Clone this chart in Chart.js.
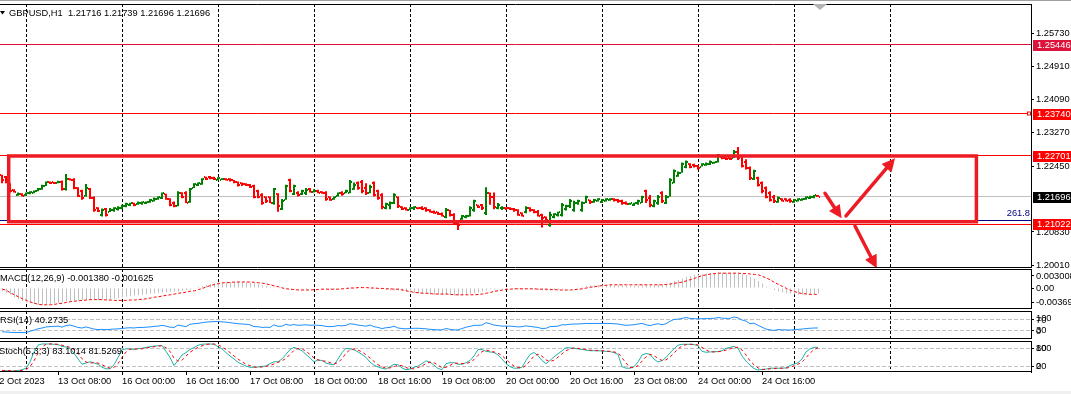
<!DOCTYPE html>
<html>
<head>
<meta charset="utf-8">
<title>GBPUSD,H1</title>
<script src="https://cdn.jsdelivr.net/npm/chart.js@4.4.1/dist/chart.umd.min.js"></script>
<style>
  html, body { margin: 0; padding: 0; background: #fff; }
  #wrap { position: relative; width: 1071px; height: 394px; overflow: hidden; background: #fff; }
  #wrap canvas { position: absolute; left: 0; }
  #topline { position: absolute; left: 0; top: 0; width: 1071px; height: 1px; background: #a0a0a0; }
  #bottomstrip { position: absolute; left: 0; top: 391px; width: 1071px; height: 3px; background: #f0f0f0; }
</style>
</head>
<body>
<div id="wrap">
  <div id="topline"></div>
  <canvas id="cMain" width="1071" height="264" style="top:4px"></canvas>
  <canvas id="cMacd" width="1071" height="40" style="top:269px"></canvas>
  <canvas id="cRsi" width="1071" height="28" style="top:311px"></canvas>
  <canvas id="cStoch" width="1071" height="53" style="top:341px"></canvas>
  <div id="bottomstrip"></div>
</div>
<script>
// Données (GBPUSD H1, une barre par heure)
const symbolName = 'GBPUSD,H1';

const xTickLabels = ['12 Oct 2023', '13 Oct 08:00', '16 Oct 00:00', '16 Oct 16:00', '17 Oct 08:00',
  '18 Oct 00:00', '18 Oct 16:00', '19 Oct 08:00', '20 Oct 00:00', '20 Oct 16:00',
  '23 Oct 08:00', '24 Oct 00:00', '24 Oct 16:00'];
const xTickBars = [-2, 14, 30, 46, 62, 78, 94, 110, 126, 142, 158, 174, 190];
// séparateurs de jours (index de barre)
const daySeparatorBars = [6, 30, 54, 78, 102, 126, 150, 174, 198, 222];

const opens = [
  1.2223,1.2218,1.2203,1.2187,1.2173,1.2177,1.2173,1.2178,1.2180,1.2183,
  1.2188,1.2197,1.2205,1.2205,1.2204,1.2207,1.2188,1.2214,1.2211,1.2191,
  1.2183,1.2172,1.2188,1.2166,1.2141,1.2124,1.2139,1.2133,1.2136,1.2139,
  1.2142,1.2147,1.2150,1.2154,1.2151,1.2154,1.2154,1.2157,1.2160,1.2164,
  1.2166,1.2177,1.2165,1.2154,1.2147,1.2180,1.2180,1.2157,1.2192,1.2198,
  1.2201,1.2218,1.2218,1.2217,1.2211,1.2212,1.2214,1.2213,1.2210,1.2205,
  1.2203,1.2201,1.2199,1.2196,1.2185,1.2174,1.2169,1.2168,1.2154,1.2177,
  1.2139,1.2162,1.2211,1.2177,1.2180,1.2176,1.2178,1.2188,1.2182,1.2185,
  1.2181,1.2180,1.2169,1.2164,1.2172,1.2180,1.2178,1.2180,1.2188,1.2203,
  1.2207,1.2191,1.2180,1.2203,1.2183,1.2174,1.2142,1.2150,1.2155,1.2169,
  1.2144,1.2142,1.2137,1.2141,1.2143,1.2143,1.2141,1.2137,1.2133,1.2131,
  1.2128,1.2121,1.2136,1.2125,1.2106,1.2114,1.2119,1.2123,1.2137,1.2149,
  1.2150,1.2129,1.2178,1.2170,1.2141,1.2141,1.2142,1.2142,1.2140,1.2137,
  1.2129,1.2131,1.2143,1.2137,1.2133,1.2125,1.2119,1.2101,1.2121,1.2124,
  1.2125,1.2139,1.2146,1.2137,1.2154,1.2137,1.2155,1.2162,1.2157,1.2160,
  1.2157,1.2160,1.2162,1.2164,1.2162,1.2160,1.2155,1.2151,1.2150,1.2154,
  1.2155,1.2183,1.2166,1.2147,1.2154,1.2180,1.2155,1.2170,1.2203,1.2221,
  1.2229,1.2242,1.2251,1.2248,1.2246,1.2244,1.2247,1.2251,1.2252,1.2255,
  1.2267,1.2265,1.2265,1.2265,1.2281,1.2269,1.2256,1.2240,1.2213,1.2215,
  1.2203,1.2191,1.2178,1.2170,1.2156,1.2164,1.2164,1.2162,1.2157,1.2160,
  1.2162,1.2164,1.2166,1.2169,1.21716
];
const highs = [
  1.2224,1.2221,1.2203,1.2188,1.2180,1.2178,1.2180,1.2183,1.2185,1.2191,
  1.2199,1.2207,1.2207,1.2206,1.2209,1.2210,1.2226,1.2215,1.2215,1.2193,
  1.2187,1.2201,1.2191,1.2170,1.2144,1.2141,1.2142,1.2142,1.2144,1.2146,
  1.2150,1.2155,1.2155,1.2155,1.2158,1.2158,1.2158,1.2164,1.2168,1.2170,
  1.2180,1.2177,1.2166,1.2158,1.2183,1.2181,1.2183,1.2191,1.2203,1.2205,
  1.2215,1.2219,1.2221,1.2219,1.2218,1.2215,1.2215,1.2215,1.2211,1.2207,
  1.2205,1.2203,1.2201,1.2199,1.2187,1.2178,1.2170,1.2170,1.2191,1.2178,
  1.2164,1.2199,1.2214,1.2199,1.2183,1.2187,1.2191,1.2191,1.2188,1.2187,
  1.2183,1.2183,1.2170,1.2170,1.2180,1.2183,1.2187,1.2211,1.2205,1.2207,
  1.2211,1.2203,1.2199,1.2207,1.2187,1.2178,1.2155,1.2158,1.2178,1.2170,
  1.2146,1.2144,1.2144,1.2146,1.2144,1.2146,1.2144,1.2139,1.2136,1.2133,
  1.2131,1.2142,1.2137,1.2129,1.2109,1.2125,1.2125,1.2146,1.2162,1.2150,
  1.2152,1.2193,1.2180,1.2180,1.2154,1.2146,1.2144,1.2144,1.2142,1.2139,
  1.2131,1.2146,1.2144,1.2139,1.2137,1.2128,1.2121,1.2133,1.2129,1.2133,
  1.2154,1.2150,1.2164,1.2160,1.2162,1.2158,1.2172,1.2162,1.2164,1.2166,
  1.2164,1.2166,1.2166,1.2166,1.2164,1.2162,1.2158,1.2155,1.2155,1.2162,
  1.2172,1.2187,1.2174,1.2162,1.2174,1.2183,1.2174,1.2215,1.2237,1.2232,
  1.2254,1.2259,1.2252,1.2251,1.2248,1.2252,1.2254,1.2259,1.2256,1.2275,
  1.2267,1.2267,1.2267,1.2285,1.2292,1.2273,1.2262,1.2244,1.2236,1.2219,
  1.2207,1.2195,1.2183,1.2174,1.2170,1.2166,1.2166,1.2166,1.2164,1.2166,
  1.2166,1.2170,1.2172,1.2174,1.21739
];
const lows = [
  1.2203,1.2203,1.2180,1.2180,1.2172,1.2170,1.2172,1.2176,1.2178,1.2183,
  1.2187,1.2196,1.2201,1.2201,1.2203,1.2185,1.2185,1.2210,1.2188,1.2169,
  1.2162,1.2170,1.2164,1.2133,1.2132,1.2121,1.2121,1.2132,1.2133,1.2136,
  1.2139,1.2144,1.2147,1.2146,1.2150,1.2150,1.2152,1.2155,1.2158,1.2162,
  1.2164,1.2162,1.2146,1.2144,1.2146,1.2166,1.2154,1.2155,1.2191,1.2196,
  1.2199,1.2211,1.2213,1.2211,1.2210,1.2211,1.2210,1.2207,1.2203,1.2195,
  1.2196,1.2196,1.2191,1.2166,1.2166,1.2150,1.2154,1.2154,1.2150,1.2133,
  1.2137,1.2162,1.2181,1.2174,1.2170,1.2174,1.2174,1.2180,1.2180,1.2178,
  1.2177,1.2160,1.2160,1.2162,1.2170,1.2172,1.2178,1.2178,1.2187,1.2187,
  1.2178,1.2174,1.2178,1.2170,1.2162,1.2139,1.2139,1.2139,1.2152,1.2142,
  1.2137,1.2136,1.2137,1.2137,1.2139,1.2137,1.2133,1.2131,1.2128,1.2125,
  1.2121,1.2117,1.2121,1.2101,1.2088,1.2113,1.2117,1.2121,1.2133,1.2142,
  1.2137,1.2125,1.2150,1.2139,1.2139,1.2137,1.2137,1.2137,1.2133,1.2123,
  1.2121,1.2129,1.2133,1.2129,1.2121,1.2094,1.2109,1.2096,1.2117,1.2121,
  1.2121,1.2136,1.2142,1.2133,1.2150,1.2133,1.2154,1.2152,1.2155,1.2158,
  1.2154,1.2158,1.2160,1.2158,1.2155,1.2150,1.2150,1.2150,1.2147,1.2150,
  1.2154,1.2154,1.2144,1.2144,1.2150,1.2154,1.2152,1.2170,1.2203,1.2219,
  1.2229,1.2240,1.2240,1.2242,1.2237,1.2244,1.2246,1.2248,1.2251,1.2254,
  1.2262,1.2260,1.2260,1.2265,1.2260,1.2242,1.2237,1.2211,1.2211,1.2195,
  1.2178,1.2166,1.2158,1.2154,1.2155,1.2158,1.2158,1.2155,1.2155,1.2158,
  1.2160,1.2162,1.2164,1.2166,1.21696
];
const closes = [
  1.2210,1.2205,1.2185,1.2182,1.2177,1.2172,1.2178,1.2181,1.2183,1.2188,
  1.2196,1.2205,1.2203,1.2203,1.2206,1.2188,1.2213,1.2211,1.2191,1.2172,
  1.2166,1.2191,1.2166,1.2137,1.2134,1.2137,1.2125,1.2137,1.2141,1.2143,
  1.2147,1.2153,1.2154,1.2149,1.2155,1.2156,1.2157,1.2162,1.2165,1.2168,
  1.2178,1.2165,1.2150,1.2146,1.2180,1.2170,1.2155,1.2188,1.2201,1.2203,
  1.2213,1.2214,1.2215,1.2214,1.2215,1.2214,1.2211,1.2210,1.2205,1.2199,
  1.2200,1.2198,1.2193,1.2170,1.2168,1.2154,1.2158,1.2155,1.2188,1.2147,
  1.2158,1.2196,1.2185,1.2195,1.2174,1.2183,1.2187,1.2182,1.2185,1.2180,
  1.2178,1.2164,1.2162,1.2168,1.2178,1.2176,1.2185,1.2207,1.2199,1.2191,
  1.2185,1.2178,1.2193,1.2174,1.2166,1.2144,1.2152,1.2154,1.2174,1.2146,
  1.2140,1.2137,1.2142,1.2144,1.2141,1.2139,1.2136,1.2132,1.2129,1.2127,
  1.2123,1.2137,1.2124,1.2105,1.2101,1.2123,1.2123,1.2142,1.2158,1.2144,
  1.2142,1.2178,1.2170,1.2144,1.2150,1.2143,1.2141,1.2140,1.2136,1.2125,
  1.2123,1.2142,1.2136,1.2132,1.2123,1.2117,1.2113,1.2125,1.2127,1.2131,
  1.2150,1.2146,1.2160,1.2155,1.2160,1.2154,1.2169,1.2157,1.2162,1.2164,
  1.2162,1.2164,1.2164,1.2162,1.2160,1.2155,1.2152,1.2154,1.2154,1.2158,
  1.2168,1.2162,1.2150,1.2158,1.2170,1.2158,1.2170,1.2210,1.2232,1.2229,
  1.2251,1.2255,1.2244,1.2246,1.2240,1.2250,1.2251,1.2256,1.2255,1.2273,
  1.2264,1.2263,1.2262,1.2281,1.2265,1.2246,1.2240,1.2215,1.2232,1.2199,
  1.2183,1.2170,1.2162,1.2158,1.2166,1.2160,1.2160,1.2158,1.2162,1.2164,
  1.2165,1.2169,1.2170,1.2173,1.21696
];

// MACD(12,26,9) : histogramme (ligne principale) et signal
const macdMain = [
  -0.0008,-0.0012,-0.0017,-0.0023,-0.0028,-0.0033,-0.0036,-0.0038,-0.0040,-0.0042,
  -0.0042,-0.0041,-0.0040,-0.0038,-0.0037,-0.0035,-0.0033,-0.0032,-0.0031,-0.0030,
  -0.0030,-0.0029,-0.0029,-0.0029,-0.0030,-0.0029,-0.0029,-0.0028,-0.0027,-0.0025,
  -0.0023,-0.0022,-0.0020,-0.0019,-0.0018,-0.0017,-0.0016,-0.0014,-0.0013,-0.0012,
  -0.0011,-0.0010,-0.0010,-0.0009,-0.0008,-0.0007,-0.0005,-0.0003,0.0000,0.0003,
  0.0005,0.0008,0.0010,0.0012,0.0013,0.0013,0.0014,0.0015,0.0015,0.0015,
  0.0014,0.0014,0.0013,0.0012,0.0009,0.0007,0.0005,0.0003,0.0002,0.0000,
  -0.0001,0.0001,0.0000,-0.0002,-0.0002,-0.0003,-0.0003,-0.0002,-0.0002,-0.0002,
  -0.0003,-0.0003,-0.0004,-0.0003,-0.0002,-0.0001,0.0000,0.0002,0.0002,0.0002,
  0.0002,0.0002,0.0001,0.0000,-0.0002,-0.0003,-0.0005,-0.0006,-0.0006,-0.0007,
  -0.0008,-0.0010,-0.0012,-0.0012,-0.0013,-0.0014,-0.0015,-0.0016,-0.0017,-0.0017,
  -0.0018,-0.0017,-0.0017,-0.0018,-0.0019,-0.0018,-0.0017,-0.0015,-0.0013,-0.0011,
  -0.0009,-0.0006,-0.0003,-0.0003,-0.0002,-0.0002,-0.0002,-0.0002,-0.0003,-0.0003,
  -0.0004,-0.0003,-0.0003,-0.0004,-0.0005,-0.0006,-0.0007,-0.0006,-0.0005,-0.0004,
  -0.0003,-0.0002,0.0000,0.0001,0.0002,0.0003,0.0005,0.0006,0.0007,0.0007,
  0.0008,0.0008,0.0008,0.0007,0.0007,0.0006,0.0005,0.0005,0.0005,0.0006,
  0.0007,0.0007,0.0006,0.0007,0.0008,0.0008,0.0009,0.0013,0.0017,0.0020,
  0.0024,0.0028,0.0030,0.0033,0.0034,0.0035,0.0036,0.0037,0.0037,0.0038,
  0.0038,0.0038,0.0038,0.0038,0.0037,0.0035,0.0032,0.0028,0.0023,0.0017,
  0.0011,0.0004,-0.0002,-0.0005,-0.0008,-0.0011,-0.0013,-0.0014,-0.0016,-0.0017,
  -0.0017,-0.0017,-0.0016,-0.0015,-0.00138
];
const macdSignal = [
  -0.0003,-0.0006,-0.0012,-0.0017,-0.0022,-0.0027,-0.0031,-0.0035,-0.0038,-0.0041,
  -0.0042,-0.0042,-0.0042,-0.0041,-0.0039,-0.0038,-0.0036,-0.0034,-0.0033,-0.0032,
  -0.0031,-0.0030,-0.0029,-0.0029,-0.0029,-0.0029,-0.0030,-0.0030,-0.0031,-0.0031,
  -0.0031,-0.0031,-0.0030,-0.0030,-0.0029,-0.0028,-0.0027,-0.0025,-0.0023,-0.0022,
  -0.0020,-0.0018,-0.0017,-0.0015,-0.0013,-0.0012,-0.0010,-0.0008,-0.0007,-0.0004,
  -0.0001,0.0003,0.0006,0.0009,0.0011,0.0013,0.0013,0.0014,0.0015,0.0015,
  0.0015,0.0015,0.0015,0.0014,0.0013,0.0012,0.0010,0.0008,0.0005,0.0003,
  0.0000,-0.0002,-0.0003,-0.0004,-0.0005,-0.0005,-0.0005,-0.0005,-0.0004,-0.0004,
  -0.0003,-0.0003,-0.0003,-0.0003,-0.0003,-0.0002,-0.0001,0.0000,0.0000,0.0001,
  0.0001,0.0001,0.0000,0.0000,-0.0001,-0.0001,-0.0002,-0.0002,-0.0003,-0.0003,
  -0.0005,-0.0007,-0.0009,-0.0011,-0.0012,-0.0013,-0.0013,-0.0014,-0.0015,-0.0015,
  -0.0015,-0.0015,-0.0016,-0.0017,-0.0017,-0.0017,-0.0017,-0.0017,-0.0017,-0.0016,
  -0.0015,-0.0013,-0.0011,-0.0008,-0.0007,-0.0005,-0.0003,-0.0003,-0.0002,-0.0002,
  -0.0002,-0.0002,-0.0002,-0.0002,-0.0003,-0.0003,-0.0003,-0.0004,-0.0004,-0.0005,
  -0.0005,-0.0005,-0.0005,-0.0004,-0.0003,-0.0002,0.0000,0.0002,0.0003,0.0005,
  0.0006,0.0007,0.0008,0.0008,0.0008,0.0008,0.0008,0.0008,0.0008,0.0008,
  0.0008,0.0008,0.0008,0.0008,0.0008,0.0008,0.0009,0.0010,0.0012,0.0013,
  0.0015,0.0018,0.0021,0.0024,0.0028,0.0031,0.0033,0.0035,0.0036,0.0037,
  0.0037,0.0037,0.0037,0.0037,0.0037,0.0036,0.0036,0.0035,0.0034,0.0033,
  0.0029,0.0025,0.0020,0.0014,0.0009,0.0004,-0.0001,-0.0006,-0.0009,-0.0012,
  -0.0014,-0.0015,-0.0016,-0.0016,-0.001625
];

// RSI(14)
const rsiValues = [
  26,25,24,23,23,23,23,28,32,37,
  40,44,45,46,47,43,49,51,47,42,
  40,44,40,36,34,35,34,35,36,37,
  38,40,41,40,42,42,43,44,46,47,
  50,47,43,42,51,48,45,54,56,57,
  60,62,63,64,64,63,62,60,58,56,
  55,54,52,45,45,42,43,42,52,46,
  47,54,50,53,50,51,52,50,51,50,
  49,46,45,46,49,48,50,56,54,51,
  49,47,51,45,42,38,41,42,47,40,
  38,37,38,39,39,38,37,35,34,33,
  33,38,35,33,33,38,43,46,50,50,
  51,60,56,51,49,47,47,47,46,44,
  45,48,46,44,42,38,39,45,46,47,
  52,52,54,55,55,56,57,57,57,57,
  57,57,57,56,55,52,50,51,52,55,
  57,52,49,53,56,52,56,65,72,73,
  76,79,76,75,74,75,75,76,76,79,
  77,76,76,81,78,70,66,56,58,50,
  43,36,33,31,34,33,33,32,34,35,
  36,38,39,40,40.2735
];

// Stochastique (5,3,3) : ligne principale et signal
const stochMain = [
  7,7,6,6,7,10,15,35,68,90,
  94,94,94,93,92,86,84,80,64,45,
  28,32,36,32,28,18,13,13,26,50,
  75,78,78,76,79,80,83,85,87,88,
  89,70,50,24,40,58,66,76,82,90,
  93,94,94,93,85,78,66,55,45,34,
  28,22,18,18,19,21,22,30,36,36,
  45,60,76,83,78,72,60,48,36,42,
  40,32,28,26,45,66,80,78,75,68,
  60,50,35,25,19,15,12,20,28,26,
  16,10,12,18,22,30,39,35,25,14,
  10,30,33,33,28,28,33,40,55,76,
  76,70,68,66,58,45,30,20,15,15,
  18,40,60,66,56,40,30,40,52,62,
  72,82,81,80,78,76,74,72,72,72,
  71,70,69,66,60,20,15,15,20,35,
  58,63,60,45,35,40,50,65,78,90,
  93,93,93,92,88,70,67,68,69,69,
  72,80,83,86,80,55,38,25,14,9,
  11,12,15,15,15,15,16,24,28,33,
  45,68,78,83,83.1014
];
const stochSignal = [
  8,7,7,6,6,8,11,20,39,64,
  84,93,94,94,93,90,87,83,76,63,
  46,35,32,33,32,26,20,15,17,30,
  50,68,77,77,78,78,81,83,85,87,
  88,82,70,48,38,41,55,67,75,83,
  88,92,94,94,91,85,76,66,55,45,
  36,28,23,19,18,19,21,24,29,34,
  39,47,60,73,79,78,70,60,48,42,
  39,38,33,29,33,46,64,75,78,74,
  68,59,48,37,26,20,15,16,20,25,
  23,17,13,13,17,23,30,35,33,25,
  16,18,24,32,31,30,30,34,43,57,
  69,74,71,68,64,56,44,32,22,17,
  16,24,39,55,61,54,42,37,41,51,
  62,72,78,81,80,78,76,74,73,72,
  72,71,70,68,65,49,32,17,17,23,
  38,52,60,56,47,40,42,52,64,78,
  87,92,93,93,91,83,75,68,68,69,
  70,74,78,83,83,74,58,39,26,16,
  11,11,13,14,15,15,15,18,23,28,
  35,49,64,76,81.5269
];

// graduations des axes de droite
const priceTicks = [1.2573, 1.2491, 1.2409, 1.2327, 1.2245, 1.2083, 1.2001];
const macdTicks = [0.003008, 0, -0.00369];
const macdTickLabels = ['0.003008', '0.00', '-0.00369'];
const rsiLevels = [70, 30];
const stochLevels = [80, 20];

// objets tracés sur le graphique
const levelPrices = [1.25446, 1.23740, 1.22701, 1.21022];
const levelColors = ['#dc143c', '#ff0000', '#ff0000', '#ff0000'];
const fiboLevel = 1.21117;
const fiboText = '261.8';
const boxRect = { fromBar: 1.675, toBar: 243.6, top: 1.22701, bottom: 1.21082 };
const arrows = [
  [205.75, 1.21782, 209.9, 1.21166],
  [211.0, 1.21223, 223.25, 1.22644],
  [213.25, 1.20976, 218.7, 1.19934]
];

// ---- réglages ----
const FONT = { family: "'Liberation Sans', Arial, sans-serif", size: 9.3 };
const FONT_CSS = "9.3px 'Liberation Sans', Arial, sans-serif";
const UP = '#008000';
const DOWN = '#ff0000';
const RED_MARK = '#ed1c24';
const X_SPAN = 1031 / 4;   // 4 px par barre

function tickImage(color, left) {
  const c = document.createElement('canvas');
  c.width = 6;
  c.height = 2;
  const g = c.getContext('2d');
  g.fillStyle = color;
  g.fillRect(left ? 1 : 4, 0, 1, 2);
  return c;
}
const tickImgs = {
  upOpen: tickImage(UP, true), upClose: tickImage(UP, false),
  downOpen: tickImage(DOWN, true), downClose: tickImage(DOWN, false)
};
const isUp = i => closes[i] >= opens[i];

function dayGridAxis(min) {
  return {
    type: 'linear', position: 'bottom', min: min, max: min + X_SPAN,
    offset: false,
    afterBuildTicks: s => { s.ticks = daySeparatorBars.map(v => ({ value: v })); },
    afterFit: s => { s.height = 0; s.paddingLeft = 0; s.paddingRight = 0; },
    ticks: { display: false },
    grid: { color: '#000', lineWidth: 1, drawTicks: false, drawOnChartArea: true, offset: false },
    border: { display: false, dash: [3, 2] }
  };
}

function rightAxis(min, max, values, labelFn) {
  return {
    type: 'linear', position: 'right', min: min, max: max,
    afterFit: s => { s.width = 40; s.paddingTop = 0; s.paddingBottom = 0; },
    afterBuildTicks: s => { s.ticks = values.map(v => ({ value: v })); },
    ticks: { autoSkip: false, padding: 2, color: '#000', font: FONT, callback: labelFn },
    grid: { drawOnChartArea: false, drawTicks: true, tickLength: 3, color: '#000' },
    border: { display: true, color: '#000' }
  };
}

function baseOptions(scales) {
  return {
    responsive: false,
    devicePixelRatio: 1,
    animation: false,
    events: [],
    layout: { padding: 0, autoPadding: false },
    plugins: { legend: { display: false }, tooltip: { enabled: false } },
    scales: scales
  };
}

function hLine(ctx, a, py, color, dash) {
  const y = Math.floor(py) + 0.5;
  ctx.save();
  ctx.strokeStyle = color;
  ctx.lineWidth = 1;
  ctx.setLineDash(dash || []);
  ctx.beginPath();
  ctx.moveTo(a.left, y);
  ctx.lineTo(a.right, y);
  ctx.stroke();
  ctx.restore();
}

function drawFrame(ctx, a) {
  ctx.save();
  ctx.strokeStyle = '#000';
  ctx.lineWidth = 1;
  ctx.beginPath();
  ctx.moveTo(0, a.top + 0.5);
  ctx.lineTo(a.right, a.top + 0.5);
  ctx.moveTo(0, a.bottom - 0.5);
  ctx.lineTo(a.right, a.bottom - 0.5);
  ctx.stroke();
  ctx.restore();
}

function drawArrow(ctx, x0, y0, x1, y1) {
  const ang = Math.atan2(y1 - y0, x1 - x0);
  const head = 13, half = 6.5;
  const bx = x1 - head * Math.cos(ang), by = y1 - head * Math.sin(ang);
  ctx.beginPath();
  ctx.moveTo(x0, y0);
  ctx.lineTo(bx, by);
  ctx.stroke();
  ctx.beginPath();
  ctx.moveTo(x1, y1);
  ctx.lineTo(bx + half * Math.sin(ang), by - half * Math.cos(ang));
  ctx.lineTo(bx - half * Math.sin(ang), by + half * Math.cos(ang));
  ctx.closePath();
  ctx.fill();
}

// ---- graphique principal (barres OHLC) ----
const mainOverlay = {
  id: 'mainOverlay',
  beforeDatasetsDraw(chart) {
    const { ctx, chartArea: a, scales: { y } } = chart;
    hLine(ctx, a, y.getPixelForValue(closes[closes.length - 1]), '#c0c0c0');
    hLine(ctx, a, y.getPixelForValue(fiboLevel), '#000080');
    levelPrices.forEach((p, k) => hLine(ctx, a, y.getPixelForValue(p), levelColors[k]));
    ctx.imageSmoothingEnabled = false;
  },
  afterDatasetsDraw(chart) {
    const { ctx, chartArea: a, scales: { x, y } } = chart;
    ctx.imageSmoothingEnabled = true;
    ctx.save();
    ctx.beginPath();
    ctx.rect(a.left, a.top, a.right - a.left, a.bottom - a.top);
    ctx.clip();
    // rectangle rouge
    ctx.strokeStyle = RED_MARK;
    ctx.lineWidth = 3.5;
    const rx0 = x.getPixelForValue(boxRect.fromBar), rx1 = x.getPixelForValue(boxRect.toBar);
    const ry0 = y.getPixelForValue(boxRect.top), ry1 = y.getPixelForValue(boxRect.bottom);
    ctx.strokeRect(rx0, ry0, rx1 - rx0, ry1 - ry0);
    // flèches
    ctx.fillStyle = RED_MARK;
    ctx.lineWidth = 3.5;
    ctx.lineCap = 'round';
    arrows.forEach(([b0, p0, b1, p1]) => {
      drawArrow(ctx, x.getPixelForValue(b0), y.getPixelForValue(p0), x.getPixelForValue(b1), y.getPixelForValue(p1));
    });
    ctx.restore();
  },
  afterDraw(chart) {
    const { ctx, chartArea: a, scales: { y } } = chart;
    drawFrame(ctx, a);
    ctx.save();
    ctx.font = FONT_CSS;
    ctx.textBaseline = 'middle';
    // titre
    const n = closes.length - 1;
    const title = symbolName + '  ' + [opens[n], highs[n], lows[n], closes[n]].map(v => v.toFixed(5)).join(' ');
    ctx.fillStyle = '#000';
    ctx.fillText(title, 9, 9);
    ctx.beginPath();
    ctx.moveTo(0, 7); ctx.lineTo(5, 7); ctx.lineTo(2.5, 10.5); ctx.closePath();
    ctx.fill();
    // petit repère gris en haut
    ctx.fillStyle = '#b4b4b4';
    ctx.beginPath();
    ctx.moveTo(813, 0); ctx.lineTo(827, 0); ctx.lineTo(820, 6); ctx.closePath();
    ctx.fill();
    // texte du niveau fibo
    ctx.fillStyle = '#000080';
    ctx.textAlign = 'right';
    ctx.fillText(fiboText, a.right - 1, y.getPixelForValue(fiboLevel) - 7);
    ctx.textAlign = 'left';
    // petit carré sur la ligne 1.23740
    const sq = Math.floor(y.getPixelForValue(levelPrices[1]));
    ctx.fillStyle = '#fff';
    ctx.fillRect(a.right - 4, sq - 1.5, 3, 3);
    ctx.strokeStyle = '#ff0000';
    ctx.lineWidth = 1;
    ctx.strokeRect(a.right - 3.5, sq - 1, 3, 3);
    // étiquettes de prix colorées
    const boxes = levelPrices.map((p, k) => [p, levelColors[k]]);
    boxes.push([closes[n], '#000']);
    boxes.forEach(([p, col]) => {
      const py = y.getPixelForValue(p);
      ctx.fillStyle = col;
      ctx.fillRect(a.right + 2, Math.round(py) - 5, 40, 11);
      ctx.fillStyle = '#fff';
      ctx.fillText(p.toFixed(5), a.right + 6, Math.round(py) + 0.5);
    });
    ctx.restore();
  }
};

new Chart(document.getElementById('cMain'), {
  type: 'bar',
  data: {
    datasets: [
      {
        type: 'line', showLine: false, pointRadius: 3,
        data: opens.map((v, i) => ({ x: i, y: v })),
        pointStyle: c => isUp(c.dataIndex) ? tickImgs.upOpen : tickImgs.downOpen
      },
      {
        type: 'line', showLine: false, pointRadius: 3,
        data: closes.map((v, i) => ({ x: i, y: v })),
        pointStyle: c => isUp(c.dataIndex) ? tickImgs.upClose : tickImgs.downClose
      },
      {
        type: 'bar', barThickness: 2, grouped: false, inflateAmount: 0, borderWidth: 0,
        data: highs.map((h, i) => ({ x: i, y: [lows[i], h] })),
        backgroundColor: c => isUp(c.dataIndex) ? UP : DOWN
      }
    ]
  },
  options: baseOptions({
    x: dayGridAxis(-0.5),
    y: rightAxis(1.199419, 1.264443, priceTicks, v => v.toFixed(5))
  }),
  plugins: [mainOverlay]
});

// ---- sous-fenêtres des indicateurs ----
function panelPlugin(opts) {
  return {
    id: 'panel',
    beforeDatasetsDraw(chart) {
      const { ctx, chartArea: a, scales: { y } } = chart;
      (opts.levels || []).forEach(v => hLine(ctx, a, y.getPixelForValue(v), '#c0c0c0', [4, 2]));
    },
    afterDraw(chart) {
      const { ctx, chartArea: a, scales: { y } } = chart;
      drawFrame(ctx, a);
      ctx.save();
      ctx.font = FONT_CSS;
      ctx.fillStyle = '#000';
      ctx.textBaseline = 'middle';
      ctx.fillText(opts.title, opts.titleX, opts.titleY);
      (opts.extra || []).forEach(([txt, v, dy]) => ctx.fillText(txt, a.right + 5, y.getPixelForValue(v) + dy));
      ctx.restore();
    }
  };
}

const last = arr => arr[arr.length - 1];

new Chart(document.getElementById('cMacd'), {
  type: 'bar',
  data: {
    datasets: [
      {
        type: 'line', data: macdSignal.map((v, i) => ({ x: i, y: v })),
        borderColor: '#ff0000', borderWidth: 1, borderDash: [3, 2], pointRadius: 0
      },
      {
        type: 'bar', data: macdMain.map((v, i) => ({ x: i, y: v })),
        backgroundColor: '#c0c0c0', barThickness: 1, grouped: false, inflateAmount: 0, borderWidth: 0
      }
    ]
  },
  options: baseOptions({
    x: dayGridAxis(-0.625),
    y: rightAxis(-0.00525, 0.00475, macdTicks, (v, i) => macdTickLabels[i])
  }),
  plugins: [panelPlugin({
    title: 'MACD(12,26,9) ' + last(macdMain).toFixed(6) + ' ' + last(macdSignal).toFixed(6),
    titleX: 0, titleY: 9
  })]
});

new Chart(document.getElementById('cRsi'), {
  type: 'line',
  data: {
    datasets: [{
      data: rsiValues.map((v, i) => ({ x: i, y: v })),
      borderColor: '#1e90ff', borderWidth: 1, pointRadius: 0
    }]
  },
  options: baseOptions({
    x: dayGridAxis(-0.5),
    y: rightAxis(-1.12, 103.55, rsiLevels, v => String(v))
  }),
  plugins: [panelPlugin({
    title: 'RSI(14) ' + last(rsiValues).toFixed(4),
    titleX: 0, titleY: 9, levels: rsiLevels,
    extra: [['100', 70, -1.5], ['0', 30, 1]]
  })]
});

new Chart(document.getElementById('cStoch'), {
  type: 'line',
  data: {
    datasets: [
      {
        data: stochSignal.map((v, i) => ({ x: i, y: v })),
        borderColor: '#ff0000', borderWidth: 1, borderDash: [3, 3], pointRadius: 0
      },
      {
        data: stochMain.map((v, i) => ({ x: i, y: v })),
        borderColor: '#20b2aa', borderWidth: 1, pointRadius: 0
      }
    ]
  },
  options: baseOptions({
    xg: dayGridAxis(-0.5),
    x: {
      type: 'linear', position: 'bottom', min: -0.5, max: -0.5 + X_SPAN,
      offset: false,
      afterBuildTicks: s => { s.ticks = xTickBars.map(v => ({ value: v })); },
      afterFit: s => { s.height = 22; s.paddingLeft = 0; s.paddingRight = 0; },
      ticks: {
        autoSkip: false, maxRotation: 0, minRotation: 0, align: 'start', padding: 1,
        color: '#000', font: FONT, callback: (v, i) => xTickLabels[i]
      },
      grid: { drawOnChartArea: false, drawTicks: true, tickLength: 3, color: '#000', offset: false },
      border: { display: false }
    },
    y: rightAxis(2.6, 103.7, stochLevels, v => String(v))
  }),
  plugins: [panelPlugin({
    title: 'Stoch(5,3,3) ' + last(stochMain).toFixed(4) + ' ' + last(stochSignal).toFixed(4),
    titleX: -1, titleY: 10, levels: stochLevels,
    extra: [['100', 80, 0], ['0', 20, 0]]
  })]
});
</script>
</body>
</html>
